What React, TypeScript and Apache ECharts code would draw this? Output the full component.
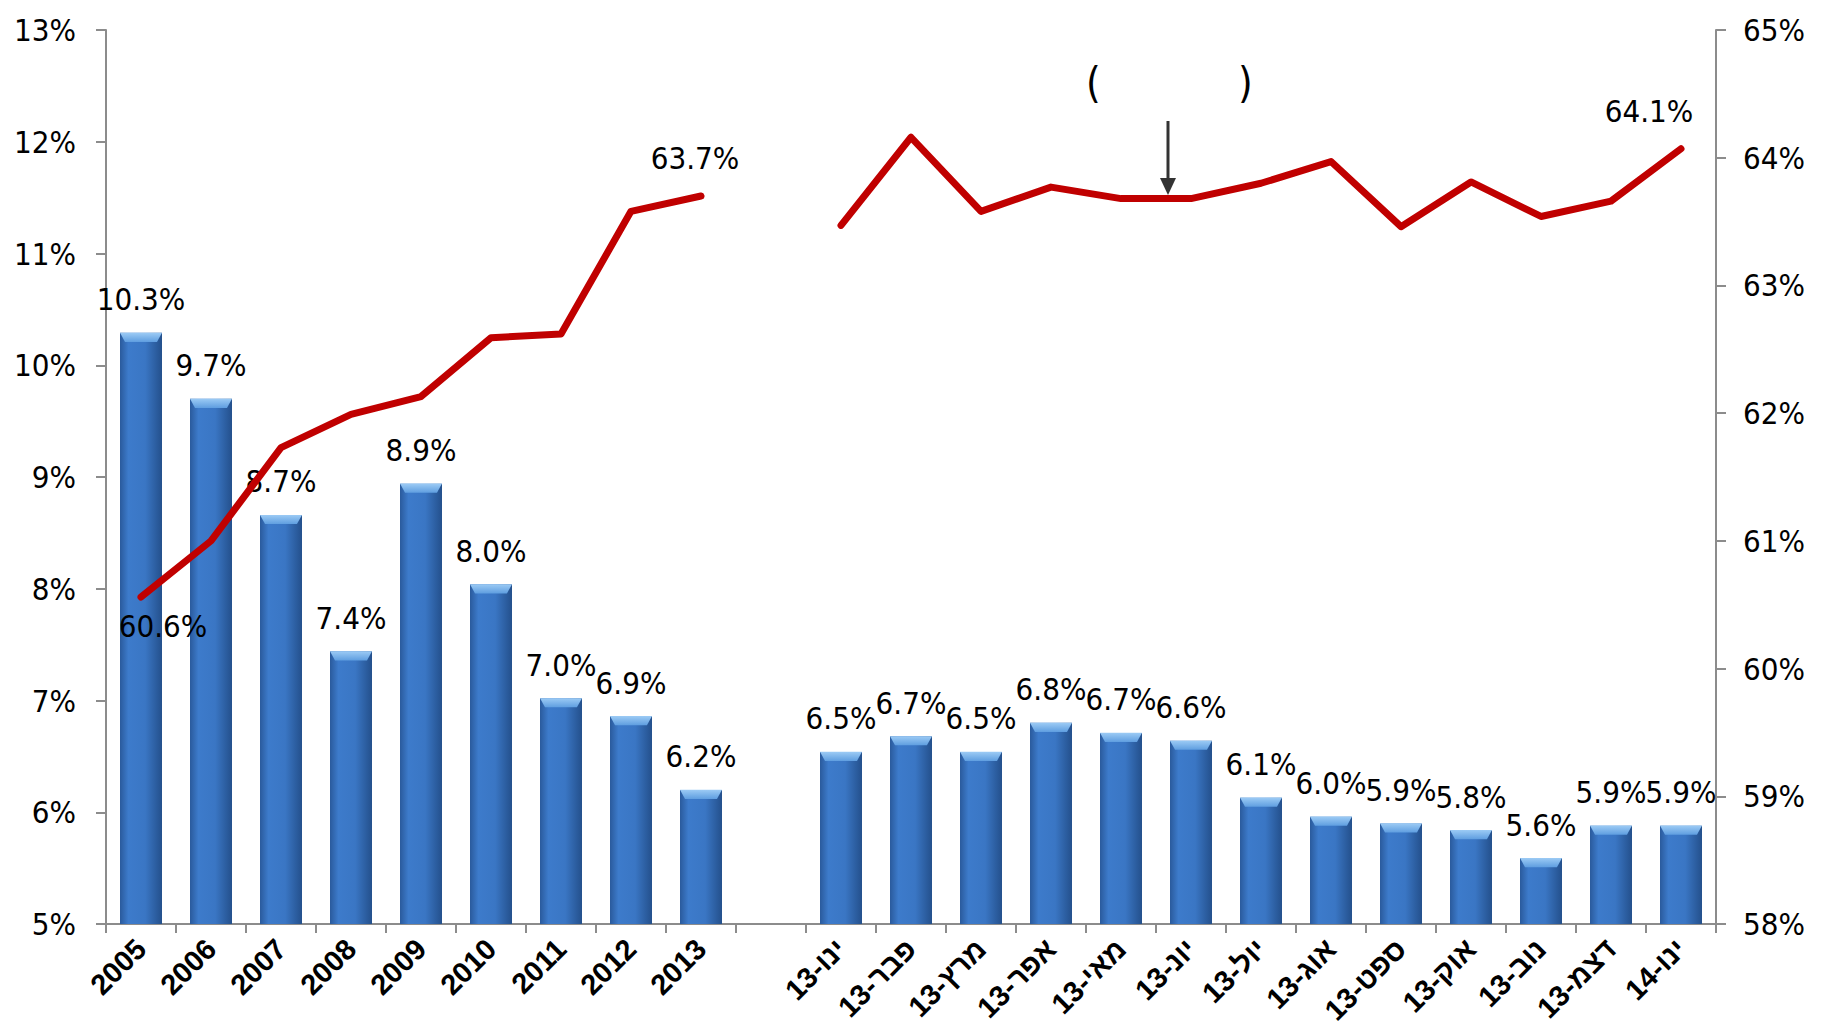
import React, { useEffect, useRef } from "react";
import * as echarts from "echarts";

const years = ["2005", "2006", "2007", "2008", "2009", "2010", "2011", "2012", "2013"];
const months = ["ינו-13", "פבר-13", "מרץ-13", "אפר-13", "מאי-13", "יונ-13", "יול-13", "אוג-13", "ספט-13", "אוק-13", "נוב-13", "דצמ-13", "ינו-14"];
const categories = [...years, "", ...months];

// unemployment rate (left axis, %)
const unempYears = [10.29, 9.7, 8.66, 7.44, 8.94, 8.04, 7.02, 6.86, 6.2];
const unempMonths = [6.54, 6.68, 6.54, 6.8, 6.71, 6.64, 6.13, 5.96, 5.9, 5.84, 5.59, 5.88, 5.88];
const unemployment = [...unempYears, null, ...unempMonths];

// participation rate (right axis, %)
const partYears = [60.56, 61.0, 61.73, 61.99, 62.13, 62.59, 62.62, 63.58, 63.7];
const partMonths = [63.47, 64.16, 63.58, 63.77, 63.68, 63.68, 63.8, 63.97, 63.46, 63.81, 63.54, 63.66, 64.07];
const participation = [...partYears, null, ...partMonths];

// which participation points carry a label
const labeledPoints = [0, 8, 22];

const leftTicks = { min: 5, max: 13, interval: 1 };
const rightTicks = { min: 58, max: 65, interval: 1 };

const FONT = "'Liberation Sans Narrow', 'DejaVu Sans Condensed', 'Liberation Sans', sans-serif";
const FS = 31;

export default function App() {
  const ref = useRef<HTMLDivElement>(null);

  useEffect(() => {
    if (!ref.current) return;
    const chart = echarts.init(ref.current, null, { renderer: "svg" });

    const lineData = participation.map((v, i) => {
      if (v === null) return null;
      if (!labeledPoints.includes(i)) return { value: v, label: { show: false } };
      let label: any;
      if (i === 0) label = { show: true, position: "bottom", offset: [22, 8] };
      else if (i === 8) label = { show: true, position: "top", offset: [-6, -17] };
      else label = { show: true, position: "top", offset: [-32, -17] };
      return { value: v, label };
    });

    const barGradient = new echarts.graphic.LinearGradient(0, 0, 1, 0, [
      { offset: 0, color: "#2A5A9C" },
      { offset: 0.2, color: "#3D7BCB" },
      { offset: 0.6, color: "#3A76C4" },
      { offset: 1, color: "#24508C" },
    ]);
    const capGradient = new echarts.graphic.LinearGradient(0, 0, 0, 1, [
      { offset: 0, color: "#9CCBF5" },
      { offset: 1, color: "#5F9EE0" },
    ]);

    chart.setOption({
      animation: false,
      backgroundColor: "#ffffff",
      grid: { left: 106, right: 107, top: 30, bottom: 112, containLabel: false },
      xAxis: {
        type: "category",
        data: categories,
        boundaryGap: true,
        axisLine: { lineStyle: { color: "#8c8c8c", width: 2 } },
        axisTick: { show: true, length: 9, lineStyle: { color: "#8c8c8c", width: 2 } },
        axisLabel: {
          interval: 0,
          rotate: 45,
          margin: 20,
          color: "#000",
          fontSize: 29,
          fontWeight: "bold",
          fontFamily: "'Liberation Sans', 'DejaVu Sans', sans-serif",
        },
      },
      yAxis: [
        {
          type: "value",
          min: leftTicks.min,
          max: leftTicks.max,
          interval: leftTicks.interval,
          position: "left",
          splitLine: { show: false },
          axisLine: { show: true, lineStyle: { color: "#8c8c8c", width: 2 } },
          axisTick: { show: true, length: 10, lineStyle: { color: "#8c8c8c", width: 2 } },
          axisLabel: { formatter: "{value}%", color: "#000", fontSize: FS, fontFamily: FONT, margin: 30 },
        },
        {
          type: "value",
          min: rightTicks.min,
          max: rightTicks.max,
          interval: rightTicks.interval,
          position: "right",
          splitLine: { show: false },
          axisLine: { show: true, lineStyle: { color: "#8c8c8c", width: 2 } },
          axisTick: { show: true, length: 10, lineStyle: { color: "#8c8c8c", width: 2 } },
          axisLabel: { formatter: "{value}%", color: "#000", fontSize: FS, fontFamily: FONT, margin: 27 },
        },
      ],
      series: [
        {
          name: "unemployment",
          type: "bar",
          yAxisIndex: 0,
          data: unemployment,
          barWidth: 42,
          itemStyle: { color: barGradient },
          label: {
            show: true,
            position: "top",
            distance: 18,
            color: "#000",
            fontSize: FS,
            fontFamily: FONT,
            formatter: (p: any) => (p.value == null ? "" : Number(p.value).toFixed(1) + "%"),
          },
          z: 2,
        },
        {
          name: "cap",
          type: "pictorialBar",
          yAxisIndex: 0,
          data: unemployment,
          symbol: "path://M0,0 L100,0 L88,20 L12,20 Z",
          symbolSize: [42, 9],
          symbolPosition: "end",
          symbolOffset: [0, 0],
          itemStyle: { color: capGradient },
          silent: true,
          z: 3,
        },
        {
          name: "participation",
          type: "line",
          yAxisIndex: 1,
          data: lineData,
          connectNulls: false,
          showSymbol: true,
          symbol: "circle",
          symbolSize: 1,
          lineStyle: { color: "#C00000", width: 7, cap: "round", join: "round" },
          itemStyle: { color: "#C00000" },
          label: {
            color: "#000",
            fontSize: FS,
            fontFamily: FONT,
            formatter: (p: any) => Number(p.value).toFixed(1) + "%",
          },
          z: 5,
        },
      ],
      graphic: [
        {
          type: "text",
          left: 1086,
          top: 62,
          style: { text: "(", fontSize: 42, fontFamily: FONT, fill: "#000" },
        },
        {
          type: "text",
          left: 1238,
          top: 62,
          style: { text: ")", fontSize: 42, fontFamily: FONT, fill: "#000" },
        },
        {
          type: "line",
          shape: { x1: 1168, y1: 121, x2: 1168, y2: 182 },
          style: { stroke: "#333", lineWidth: 3 },
          z: 10,
        },
        {
          type: "polygon",
          shape: { points: [[1160, 178], [1176, 178], [1168, 195]] },
          style: { fill: "#333" },
          z: 10,
        },
      ],
    });

    return () => chart.dispose();
  }, []);

  return (
    <div
      ref={ref}
      style={{ position: "fixed", left: 0, top: 0, width: 1823, height: 1036, background: "#fff" }}
    />
  );
}
